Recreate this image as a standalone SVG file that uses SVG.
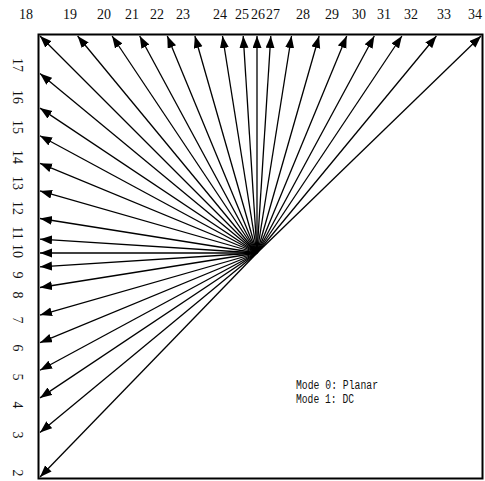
<svg xmlns="http://www.w3.org/2000/svg" width="485" height="481" viewBox="0 0 485 481">
<style>
.lbl{font-family:"Liberation Serif","Noto Serif",serif;font-size:14px;fill:#111;text-anchor:middle}
.leg{font-family:"Liberation Mono","DejaVu Sans Mono",monospace;font-size:12px;fill:#111}
.arr{stroke:#000;stroke-width:1.3;fill:none;marker-end:url(#ah)}
</style>
<defs>
<marker id="ah" markerUnits="userSpaceOnUse" markerWidth="13" markerHeight="10" refX="12" refY="4.5" orient="auto">
<path d="M0,0 L12,4.5 L0,9 z" fill="#000"/>
</marker>
</defs>
<rect width="485" height="481" fill="#fff"/>
<g id="frame"><rect x="38.5" y="34.5" width="444" height="444" fill="none" stroke="#000" stroke-width="2"/></g>
<g id="connectors">
<line class="arr" x1="257" y1="253" x2="40" y2="477"/>
<line class="arr" x1="257" y1="253" x2="40" y2="432.4"/>
<line class="arr" x1="257" y1="253" x2="40" y2="397.9"/>
<line class="arr" x1="257" y1="253" x2="40" y2="370.3"/>
<line class="arr" x1="257" y1="253" x2="40" y2="342.7"/>
<line class="arr" x1="257" y1="253" x2="40" y2="315.1"/>
<line class="arr" x1="257" y1="253" x2="40" y2="287.5"/>
<line class="arr" x1="257" y1="253" x2="40" y2="266.8"/>
<line class="arr" x1="257" y1="253" x2="40" y2="253"/>
<line class="arr" x1="257" y1="253" x2="40" y2="239.2"/>
<line class="arr" x1="257" y1="253" x2="40" y2="218.5"/>
<line class="arr" x1="257" y1="253" x2="40" y2="190.9"/>
<line class="arr" x1="257" y1="253" x2="40" y2="163.3"/>
<line class="arr" x1="257" y1="253" x2="40" y2="135.7"/>
<line class="arr" x1="257" y1="253" x2="40" y2="108.1"/>
<line class="arr" x1="257" y1="253" x2="40" y2="73.6"/>
<line class="arr" x1="257" y1="253" x2="40" y2="36"/>
<line class="arr" x1="257" y1="253" x2="77.6" y2="36"/>
<line class="arr" x1="257" y1="253" x2="112.1" y2="36"/>
<line class="arr" x1="257" y1="253" x2="139.7" y2="36"/>
<line class="arr" x1="257" y1="253" x2="167.3" y2="36"/>
<line class="arr" x1="257" y1="253" x2="194.9" y2="36"/>
<line class="arr" x1="257" y1="253" x2="222.5" y2="36"/>
<line class="arr" x1="257" y1="253" x2="243.2" y2="36"/>
<line class="arr" x1="257" y1="253" x2="257" y2="36"/>
<line class="arr" x1="257" y1="253" x2="270.8" y2="36"/>
<line class="arr" x1="257" y1="253" x2="291.5" y2="36"/>
<line class="arr" x1="257" y1="253" x2="319.1" y2="36"/>
<line class="arr" x1="257" y1="253" x2="346.7" y2="36"/>
<line class="arr" x1="257" y1="253" x2="374.3" y2="36"/>
<line class="arr" x1="257" y1="253" x2="401.9" y2="36"/>
<line class="arr" x1="257" y1="253" x2="436.4" y2="36"/>
<line class="arr" x1="257" y1="253" x2="481" y2="36"/>
</g>
<g id="mode2"><text class="lbl" transform="translate(13,473) rotate(90)">2</text></g>
<g id="mode3"><text class="lbl" transform="translate(13,435) rotate(90)">3</text></g>
<g id="mode4"><text class="lbl" transform="translate(13,405) rotate(90)">4</text></g>
<g id="mode5"><text class="lbl" transform="translate(13,377) rotate(90)">5</text></g>
<g id="mode6"><text class="lbl" transform="translate(13,348) rotate(90)">6</text></g>
<g id="mode7"><text class="lbl" transform="translate(13,320) rotate(90)">7</text></g>
<g id="mode8"><text class="lbl" transform="translate(13,295) rotate(90)">8</text></g>
<g id="mode9"><text class="lbl" transform="translate(13,275) rotate(90)">9</text></g>
<g id="mode10"><text class="lbl" transform="translate(13,251) rotate(90)">10</text></g>
<g id="mode11"><text class="lbl" transform="translate(13,233) rotate(90)">11</text></g>
<g id="mode12"><text class="lbl" transform="translate(13,208) rotate(90)">12</text></g>
<g id="mode13"><text class="lbl" transform="translate(13,183) rotate(90)">13</text></g>
<g id="mode14"><text class="lbl" transform="translate(13,157) rotate(90)">14</text></g>
<g id="mode15"><text class="lbl" transform="translate(13,127) rotate(90)">15</text></g>
<g id="mode16"><text class="lbl" transform="translate(13,97) rotate(90)">16</text></g>
<g id="mode17"><text class="lbl" transform="translate(13,65) rotate(90)">17</text></g>
<g id="mode18"><text class="lbl" x="26" y="19">18</text></g>
<g id="mode19"><text class="lbl" x="70" y="19">19</text></g>
<g id="mode20"><text class="lbl" x="104" y="19">20</text></g>
<g id="mode21"><text class="lbl" x="132" y="19">21</text></g>
<g id="mode22"><text class="lbl" x="157" y="19">22</text></g>
<g id="mode23"><text class="lbl" x="183" y="19">23</text></g>
<g id="mode24"><text class="lbl" x="220" y="19">24</text></g>
<g id="mode25"><text class="lbl" x="242" y="19">25</text></g>
<g id="mode26"><text class="lbl" x="258" y="19">26</text></g>
<g id="mode27"><text class="lbl" x="273" y="19">27</text></g>
<g id="mode28"><text class="lbl" x="303" y="19">28</text></g>
<g id="mode29"><text class="lbl" x="332" y="19">29</text></g>
<g id="mode30"><text class="lbl" x="359" y="19">30</text></g>
<g id="mode31"><text class="lbl" x="384" y="19">31</text></g>
<g id="mode32"><text class="lbl" x="411" y="19">32</text></g>
<g id="mode33"><text class="lbl" x="444" y="19">33</text></g>
<g id="mode34"><text class="lbl" x="475" y="19">34</text></g>
<g id="legend">
<text class="leg" x="296" y="389" textLength="82" lengthAdjust="spacingAndGlyphs">Mode 0: Planar</text>
<text class="leg" x="296" y="403" textLength="58" lengthAdjust="spacingAndGlyphs">Mode 1: DC</text>
</g>
</svg>
